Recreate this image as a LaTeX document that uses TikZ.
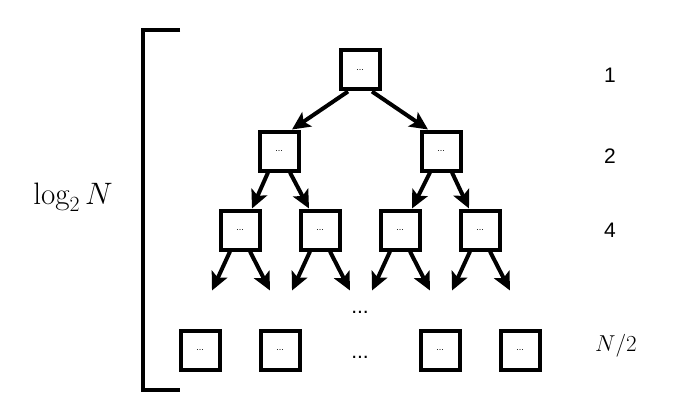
\RequirePackage{fix-cm}
\documentclass[tikz,border=0pt]{standalone}
\usepackage{amsmath,amssymb}
\usepackage{fontspec}
\newfontfamily\lvlfont{Liberation Sans}
\usetikzlibrary{arrows.meta,positioning,calc}

\begin{document}
\begin{tikzpicture}[x=1pt, y=-1pt, >={Stealth[length=18pt,width=17pt,inset=4pt]}, line width=4pt,
  cell/.style={draw, line width=4pt, minimum size=39pt, inner sep=0pt, font=\lvlfont\fontsize{9}{10}\selectfont},
  lvl/.style={font=\lvlfont\fontsize{21}{24}\selectfont}]
\useasboundingbox (0,0) rectangle (691,420);
% tree levels
\node[cell] (r) at (360,70) {...};
\node[cell] (a) at (279,151) {...}; \node[cell] (b) at (441,151) {...};
\foreach \n/\x in {aa/240,ab/320,ba/400,bb/480} \node[cell] (\n) at (\x,230) {...};
\foreach \n/\x in {l1/200,l2/280,l3/440,l4/520} \node[cell] (\n) at (\x,350) {...};
\node[lvl] (dotsmid) at (360,312) {...}; \node[lvl] (dotsrow) at (360,357) {...};
% arrows
\draw[->] ([xshift=-12pt]r.south) -- ([xshift=13pt]a.north); \draw[->] ([xshift=12pt]r.south) -- ([xshift=-13pt]b.north);
\draw[->] ([xshift=-11pt]a.south) -- ([xshift=12pt]aa.north); \draw[->] ([xshift=11pt]a.south) -- ([xshift=-11pt]ab.north);
\draw[->] ([xshift=-11pt]b.south) -- ([xshift=12pt]ba.north); \draw[->] ([xshift=11pt]b.south) -- ([xshift=-11pt]bb.north);
\foreach \n in {aa,ab,ba,bb} { \coordinate (\n-l) at ($(\n.south)+(-28,39)$); \coordinate (\n-r) at ($(\n.south)+(30,39)$); \draw[->] ([xshift=-10pt]\n.south) -- (\n-l); \draw[->] ([xshift=10pt]\n.south) -- (\n-r); }
% bracket and labels
\draw (180,30) -- (143,30) -- (143,390) -- (180,390);
\node[anchor=base, font=\fontsize{31}{36}\selectfont] (depth) at (73,204) {$\log_2 N$};
\node[lvl] (n1) at (610,75) {1}; \node[lvl] (n2) at (610,156) {2}; \node[lvl] (n4) at (610,230) {4};
\node[font=\fontsize{23}{27}\selectfont] (nhalf) at (616,346) {$N/2$};
\end{tikzpicture}
\end{document}
